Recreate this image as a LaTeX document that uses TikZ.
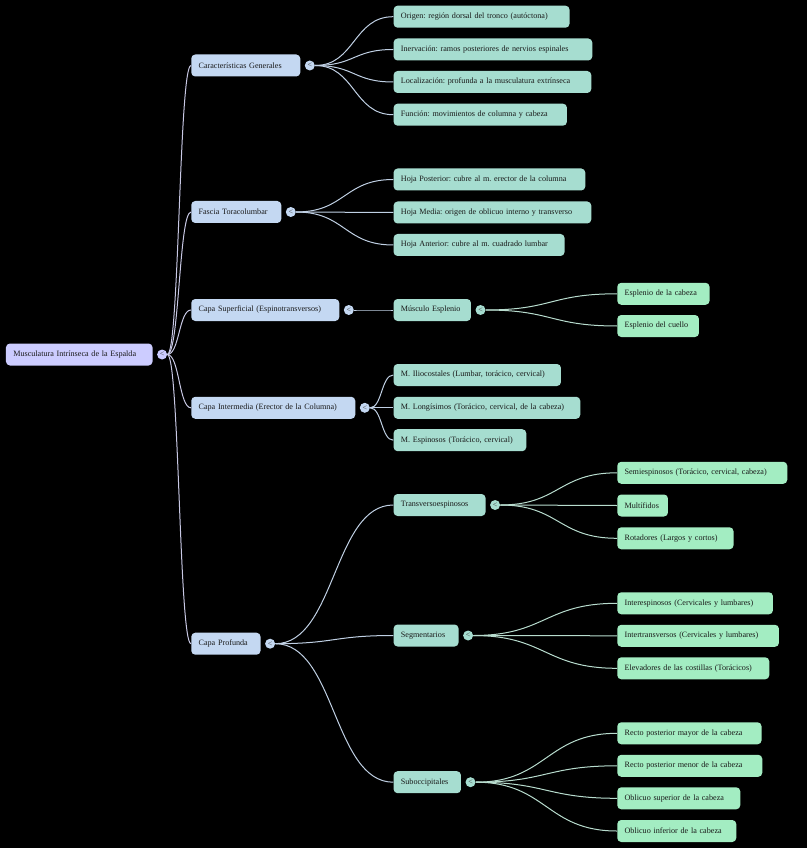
\documentclass[tikz,border=0pt]{standalone}
\usepackage{fontspec}
\setmainfont{Liberation Serif}
\usetikzlibrary{positioning}

\definecolor{rootfill}{HTML}{CCCCFF}
\definecolor{onefill}{HTML}{C4D8F2}
\definecolor{twofill}{HTML}{A6DDD0}
\definecolor{threefill}{HTML}{A3EDC2}
\definecolor{linkroot}{HTML}{C8C8E4}
\definecolor{linkone}{HTML}{C0D0E4}
\definecolor{linktwo}{HTML}{B8DCCE}

\tikzset{
	box/.style={
		rounded corners=3pt, anchor=west, align=left,
		inner xsep=5.5pt, inner ysep=0pt, minimum height=16.5pt,
		text=black!90, font=\fontsize{6.1pt}{7.3pt}\selectfont\frenchspacing
	},
	bw/.style={text width=#1*0.75pt-11pt},
	lvlroot/.style={box, fill=rootfill},
	lvlone/.style={box, fill=onefill},
	lvltwo/.style={box, fill=twofill},
	lvlthree/.style={box, fill=threefill},
	knob/.style={
		circle, inner sep=0pt, minimum size=7.5pt,
		text=black!75, font=\fontsize{6pt}{6pt}\selectfont
	},
	link/.style={line width=0.75pt, out=0, in=180, distance=#1},
}

\begin{document}
\begin{tikzpicture}[x=0.75pt, y=-0.75pt]
		\fill[black] (0,0) rectangle (807,848);

		% root
		\node[lvlroot, bw=146.6] (spine) at (5.7,354.5) {Musculatura Intrínseca de la Espalda};
		\node[knob, fill=rootfill, right=3pt of spine] (kspine) {<};

		% first level
		\node[lvlone, bw=109] (gen) at (191,65.5) {Características Generales};
		\node[lvlone, bw=90] (fas) at (191,212) {Fascia Toracolumbar};
		\node[lvlone, bw=148] (sup) at (191,310) {Capa Superficial (Espinotransversos)};
		\node[lvlone, bw=164] (int) at (191,407.8) {Capa Intermedia (Erector de la Columna)};
		\node[lvlone, bw=69.3] (pro) at (191,643.7) {Capa Profunda};
		\foreach \n in {gen,fas,sup,int,pro}
			\node[knob, fill=onefill, right=3pt of \n] (k\n) {<};

		% second level
		\node[lvltwo, bw=176] (gen1) at (393.3,16.7) {Origen: región dorsal del tronco (autóctona)};
		\node[lvltwo, bw=198.7] (gen2) at (393.3,49.5) {Inervación: ramos posteriores de nervios espinales};
		\node[lvltwo, bw=197.7] (gen3) at (393.3,82) {Localización: profunda a la musculatura extrínseca};
		\node[lvltwo, bw=173.4] (gen4) at (393.3,114.7) {Función: movimientos de columna y cabeza};
		\node[lvltwo, bw=191.7] (fas1) at (393.3,179.5) {Hoja Posterior: cubre al m. erector de la columna};
		\node[lvltwo, bw=197.7] (fas2) at (393.3,212.5) {Hoja Media: origen de oblicuo interno y transverso};
		\node[lvltwo, bw=171] (fas3) at (393.3,245) {Hoja Anterior: cubre al m. cuadrado lumbar};
		\node[lvltwo, bw=77.4] (spl) at (393.3,310) {Músculo Esplenio};
		\node[lvltwo, bw=167.4] (int1) at (393.3,375) {M. Iliocostales (Lumbar, torácico, cervical)};
		\node[lvltwo, bw=186.7] (int2) at (393.3,407.8) {M. Longísimos (Torácico, cervical, de la cabeza)};
		\node[lvltwo, bw=132.7] (int3) at (393.3,440.2) {M. Espinosos (Torácico, cervical)};
		\node[lvltwo, bw=92] (tre) at (393.3,505) {Transversoespinosos};
		\node[lvltwo, bw=65] (seg) at (393.3,635.5) {Segmentarios};
		\node[lvltwo, bw=67.4] (sub) at (393.3,782.2) {Suboccipitales};
		\foreach \n in {spl,tre,seg,sub}
			\node[knob, fill=twofill, right=3pt of \n] (k\n) {<};

		% third level
		\node[lvlthree, bw=92.3] (spl1) at (617,293.8) {Esplenio de la cabeza};
		\node[lvlthree, bw=81.7] (spl2) at (617,326) {Esplenio del cuello};
		\node[lvlthree, bw=170] (tre1) at (617,472.8) {Semiespinosos (Torácico, cervical, cabeza)};
		\node[lvlthree, bw=50.7] (tre2) at (617,505.5) {Multífidos};
		\node[lvlthree, bw=116.3] (tre3) at (617,538.3) {Rotadores (Largos y cortos)};
		\node[lvlthree, bw=155.7] (seg1) at (617,603.3) {Interespinosos (Cervicales y lumbares)};
		\node[lvlthree, bw=161.7] (seg2) at (617,635.8) {Intertransversos (Cervicales y lumbares)};
		\node[lvlthree, bw=152] (seg3) at (617,668.3) {Elevadores de las costillas (Torácicos)};
		\node[lvlthree, bw=144.3] (sub1) at (617,733.3) {Recto posterior mayor de la cabeza};
		\node[lvlthree, bw=145] (sub2) at (617,765.8) {Recto posterior menor de la cabeza};
		\node[lvlthree, bw=123] (sub3) at (617,798.3) {Oblicuo superior de la cabeza};
		\node[lvlthree, bw=119] (sub4) at (617,831) {Oblicuo inferior de la cabeza};

		% connectors
		\foreach \c in {gen,fas,sup,int,pro}
			\draw[link=9pt, draw=linkroot] (kspine.east) to (\c.west);
		\foreach \c in {gen1,gen2,gen3,gen4}
			\draw[link=30pt, draw=linkone] (kgen.east) to (\c.west);
		\foreach \c in {fas1,fas2,fas3}
			\draw[link=37pt, draw=linkone] (kfas.east) to (\c.west);
		\draw[link=9pt, draw=linkone] (ksup.east) to (spl.west);
		\foreach \c in {int1,int2,int3}
			\draw[link=9pt, draw=linkone] (kint.east) to (\c.west);
		\foreach \c in {tre,seg,sub}
			\draw[link=45pt, draw=linkone] (kpro.east) to (\c.west);
		\foreach \c in {spl1,spl2}
			\draw[link=50pt, draw=linktwo] (kspl.east) to (\c.west);
		\foreach \c in {tre1,tre2,tre3}
			\draw[link=44pt, draw=linktwo] (ktre.east) to (\c.west);
		\foreach \c in {seg1,seg2,seg3}
			\draw[link=54pt, draw=linktwo] (kseg.east) to (\c.west);
		\foreach \c in {sub1,sub2,sub3,sub4}
			\draw[link=53pt, draw=linktwo] (ksub.east) to (\c.west);

	\end{tikzpicture}
\end{document}
